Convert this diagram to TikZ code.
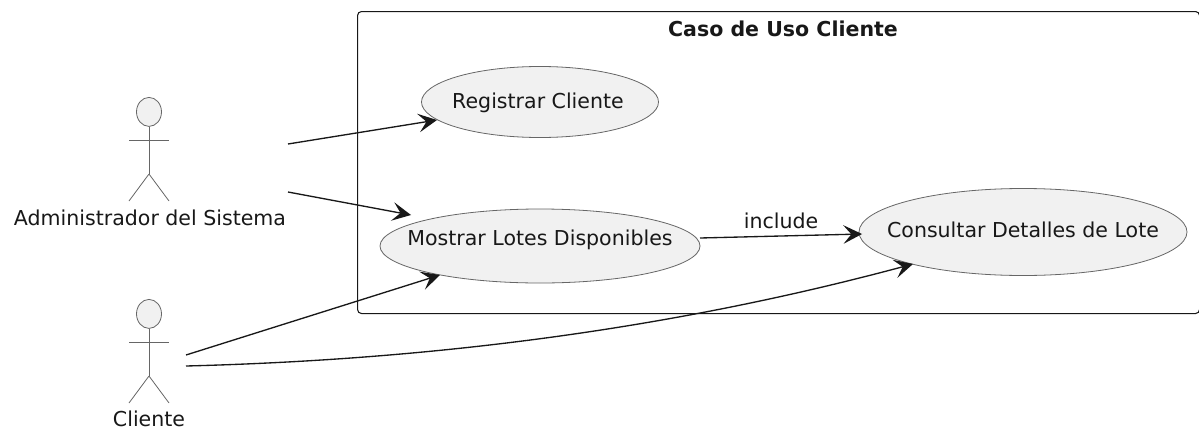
\documentclass[tikz,border=0pt]{standalone}
\usepackage{fontspec}
\setmainfont{DejaVu Sans}
\usetikzlibrary{arrows.meta,shapes.geometric}
\definecolor{ucfill}{HTML}{F1F1F1}
\definecolor{ucline}{HTML}{181818}
\definecolor{softline}{HTML}{666666}
\tikzset{x=0.75pt,y=-0.75pt,
  uc/.style={ellipse,draw=softline,fill=ucfill,line width=0.6pt,inner sep=0,minimum width=#1},
  lab/.style={font=\fontsize{15.4}{17}\selectfont,text=ucline,inner sep=0},
  conn/.style={draw=ucline,line width=1pt,-{Stealth[length=14pt,width=14pt,inset=6pt]}},
  stick/.style={draw=softline,line width=0.6pt}}
\begin{document}
\begin{tikzpicture}
\useasboundingbox (0,0) rectangle (1199,432);
\node[draw=ucline,line width=0.8pt,rounded corners=3pt,minimum width=842pt*0.75,minimum height=302pt*0.75,inner sep=0,anchor=north west] (box) at (357,11) {};
\node[lab,font=\bfseries\fontsize{15.4}{17}\selectfont] (title) at (783,29) {Caso de Uso Cliente};
\node[uc=237pt*0.75,minimum height=71pt*0.75] (reg) at (540,102) {};
\node[lab] (regt) at (538,103) {Registrar Cliente};
\node[uc=320pt*0.75,minimum height=74pt*0.75] (mos) at (540,246) {};
\node[lab] (most) at (540,240) {Mostrar Lotes Disponibles};
\node[uc=328pt*0.75,minimum height=87pt*0.75] (con) at (1023,232) {};
\node[lab] (cont) at (1023,230) {Consultar Detalles de Lote};
% actors
\foreach \n/\cx/\top in {a/149/97,c/149/299}{
  \node[ellipse,draw=softline,fill=ucfill,line width=0.6pt,minimum width=25pt*0.75,minimum height=29pt*0.75,inner sep=0,anchor=north] (\n head) at (\cx,\top) {};
  \coordinate (\n hip) at (\cx,\top+77);
  \draw[stick] (\n head.south) -- (\n hip);
  \draw[stick] (\cx-20,\top+43) -- (\cx+20,\top+43);
  \draw[stick] (\n hip) -- (\cx-20,\top+104);
  \draw[stick] (\n hip) -- (\cx+20,\top+104);
}
\node[lab] (atext) at (150,218) {Administrador del Sistema};
\node[lab] (ctext) at (149,419) {Cliente};
\coordinate (a1) at (288,144);
\coordinate (a2) at (288,192);
\coordinate (c1) at (186,355);
\coordinate (c2) at (186,366);
\coordinate (regt1) at (437,120);
\coordinate (most1) at (411,215);
\coordinate (most2) at (440,275);
\coordinate (cont1) at (913,264);
\coordinate (mosout) at (700,238);
\coordinate (conin) at (862,234);
\draw[conn] (a1) -- (regt1);
\draw[conn] (a2) -- (most1);
\draw[conn] (c1) -- (most2);
\draw[conn] (c2) .. controls (420,360) and (660,332) .. (cont1);
\draw[conn] (mosout) -- node[lab,pos=0.5,yshift=11pt]{include} (conin);
\end{tikzpicture}
\end{document}
